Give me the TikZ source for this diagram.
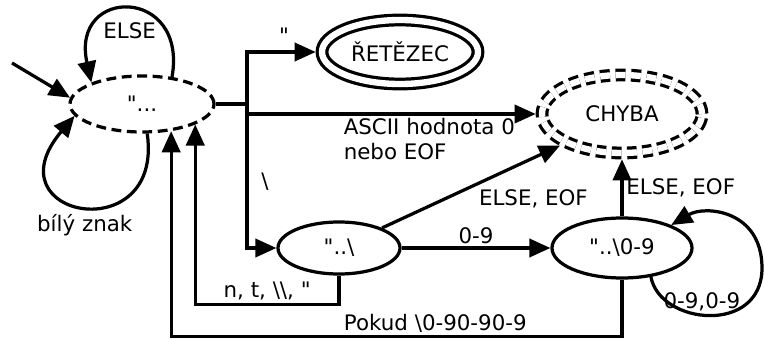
\documentclass[tikz,border=0pt]{standalone}
\usepackage{fontspec}
\setmainfont{DejaVu Sans}
\usepackage{tikz}
\usetikzlibrary{arrows.meta,positioning,calc,shapes.geometric}

\begin{document}
\begin{tikzpicture}[
    font=\fontsize{15.2pt}{17.5pt}\selectfont,
    line width=2.3pt,
    state/.style={draw, ellipse, inner sep=0pt, line width=2.3pt},
    startst/.style={state, dash pattern=on 7pt off 4pt},
    accept/.style={state, double, double distance=4.5pt, outer sep=4.5pt},
    errst/.style={accept, dash pattern=on 7pt off 4pt},
    arr/.style={-{Triangle[length=15pt, width=13pt]}, line width=2.3pt},
    lbl/.style={inner sep=2pt}
  ]
    \useasboundingbox (0,0) rectangle (19.125,8.45);

    \node[startst, minimum width=3.6cm, minimum height=1.4cm] (start) at (3.55,5.85) {\textquotedbl...};
    \node[accept, minimum width=3.9cm, minimum height=1.6cm] (retezec) at (10.0,7.15) {ŘETĚZEC};
    \node[errst, minimum width=4.0cm, minimum height=1.95cm] (chyba) at (15.55,5.6) {CHYBA};
    \node[state, minimum width=3.05cm, minimum height=1.3cm] (esc) at (8.475,2.25) {\textquotedbl..\textbackslash};
    \node[state, minimum width=3.5cm, minimum height=1.5cm] (dig) at (15.55,2.25) {\textquotedbl..\textbackslash 0-9};

    \coordinate (init) at (0.3,6.875);
    \coordinate (split) at (6.175,5.85);

    % start state
    \draw[arr] (init) -- (start.175);
    \draw[arr] (start.42) .. controls (4.7,8.8) and (1.75,8.8) .. node[pos=0.5, below=6pt, lbl] {ELSE} (start.157);
    \draw[arr] (start.-80) .. controls (4.1,2.2) and (-0.3,3.0) .. node[pos=0.5, below=2pt, lbl] {bílý znak} (start.190);

    % branching after "...
    \draw (start.east) -- (split);
    \draw[arr] (split) |- node[pos=0.77, above=3pt, lbl] {\textquotedbl} (retezec.west);
    \draw[arr] (split) |- node[pos=0.66, below right, align=left, lbl] {ASCII hodnota 0\\nebo EOF} (chyba.west);
    \draw[arr] (split) |- node[pos=0.27, right=2.5mm, lbl] {\textbackslash} (esc.west);

    % escape sequence
    \draw[arr] (esc) -- node[above, lbl] {0-9} (dig);
    \draw[arr] (esc.25) -- node[pos=0.52, below right, lbl] {ELSE, EOF} (chyba.207.7);
    \draw[arr] (dig.north) -- node[right, lbl] {ELSE, EOF} (chyba.south);
    \draw[arr] (dig.-45) .. controls (16.5,0.325) and (19.05,0.075) .. node[pos=0.45, above, lbl] {0-9,0-9} (19.05,1.75)
      .. controls (19.05,3.2) and (17.625,3.325) .. (dig.25);

    % back to "...
    \draw[arr] (esc.south) -- ++(0,-0.725) -| node[pos=0.25, above, lbl] {n, t, \textbackslash\textbackslash, \textquotedbl} (start.-21);
    \draw[arr] (dig.south) -- ++(0,-1.425) -| node[pos=0.207, above, lbl] {Pokud \textbackslash 0-90-90-9} (start.-43);
  \end{tikzpicture}
\end{document}
